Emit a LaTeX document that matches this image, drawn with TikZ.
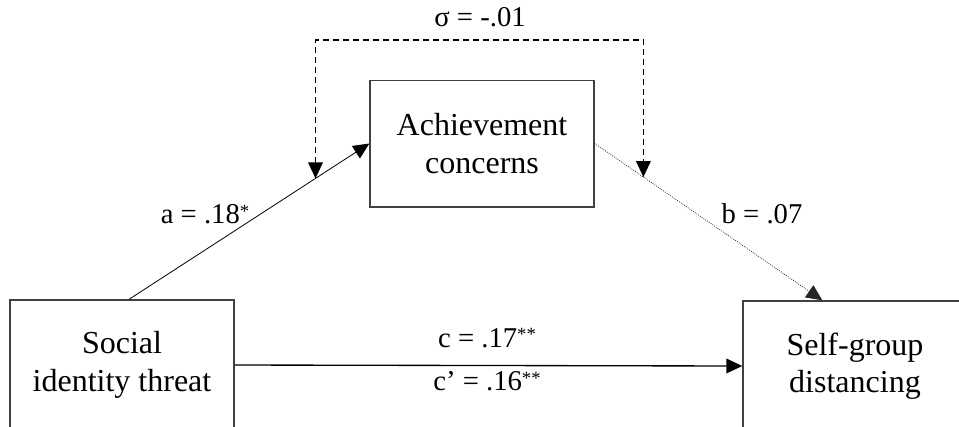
\documentclass[tikz,border=0pt]{standalone}
\usepackage{fontspec}
\setmainfont{Liberation Serif}
\usetikzlibrary{arrows.meta,calc}
\newcommand{\sigstar}[1]{\raisebox{0.22em}{\fontsize{14}{14}\selectfont #1}}
\begin{document}
\begin{tikzpicture}[x=0.75pt,y=-0.75pt,
  varbox/.style={draw=black!75,line width=1pt,minimum width=168pt,align=center,
    font=\fontsize{24}{28}\selectfont,inner sep=0pt},
  lbl/.style={font=\fontsize{21.5}{26}\selectfont,inner sep=0pt},
  tip/.style={-{Triangle[length=12pt,width=11pt]}},
  pathline/.style={tip,line width=0.6pt},
  covline/.style={{Triangle[length=12pt,width=11pt]}-{Triangle[length=12pt,width=11pt]},dash pattern=on 4.5pt off 3pt,line width=1pt}]
\useasboundingbox (0,0) rectangle (959,426);
\clip (0,0) rectangle (959,426);
\node[varbox,minimum height=97.5pt] (S) at (122,365) {Social\\identity threat};
\node[varbox,minimum height=95pt] (A) at (482,143.5) {Achievement\\concerns};
\node[varbox,minimum height=97.5pt] (D) at (855,366) {Self-group\\distancing};
\draw[pathline] ($(S.north)+(7,0)$) -- (A.west);
\draw[pathline,densely dotted,black!85] (A.east) -- ($(D.north west)+(80,0)$);
\draw[tip,line width=1pt] (S.east) -- (D.west);
\path ($(S.north)+(7,0)$) -- (A.west) coordinate[pos=0.776] (pa);
\path (A.east) -- ($(D.north west)+(80,0)$) coordinate[pos=0.214] (pb);
\coordinate (top) at (480,40);
\draw[covline] (pa) |- (top) -| (pb);
\node[lbl] (sig) at (480,17) {σ = -.01};
\node[lbl] (la) at (205,214) {a = .18\sigstar{*}};
\node[lbl] (lb) at (762,214) {b = .07};
\node[lbl] (lc) at (487,338) {c = .17\sigstar{**}};
\node[lbl] (lc2) at (487,381) {c’ = .16\sigstar{**}};
\end{tikzpicture}
\end{document}
